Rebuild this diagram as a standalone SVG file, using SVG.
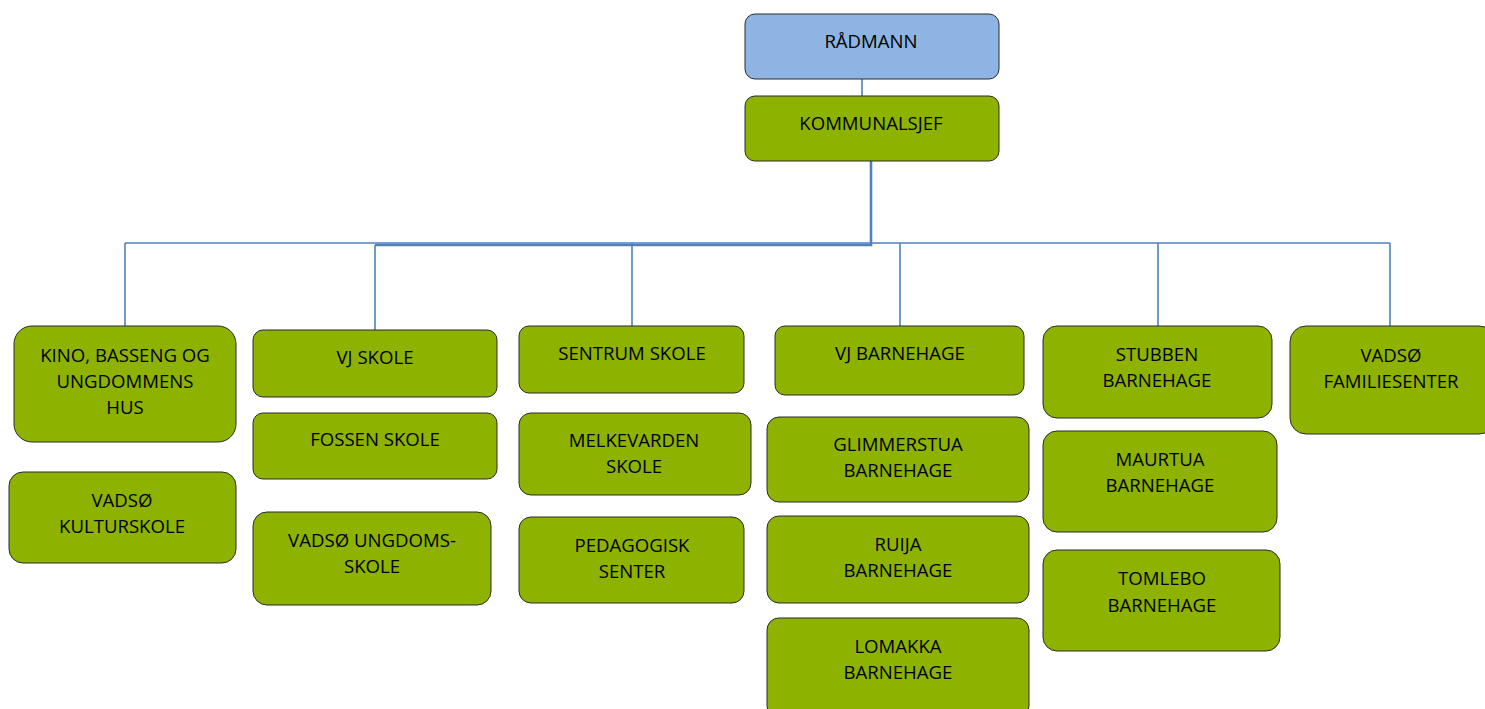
<svg xmlns="http://www.w3.org/2000/svg" width="1485" height="709" viewBox="0 0 1485 709">
<style>
.b{fill:#8DB300;stroke:#2b2b2b;stroke-width:1}
.top{fill:#8DB4E2;stroke:#2b2b2b;stroke-width:1}
text{font-family:"Open Sans","Liberation Sans",sans-serif;font-size:18.6px;fill:#000;text-anchor:middle}
.c{fill:none;stroke:#4F81BD;stroke-width:1.6}
.t{fill:none;stroke:#4F81BD;stroke-width:2.6}
</style>
<rect width="1485" height="709" fill="#fff"/>
<g id="connectors">
<line class="c" x1="862" y1="79" x2="862" y2="96"/>
<polyline class="t" points="871,161 871,245 375,245"/>
<line class="c" x1="125" y1="243" x2="1390" y2="243"/>
<line class="c" x1="125" y1="243" x2="125" y2="326"/>
<line class="c" x1="375" y1="245" x2="375" y2="330"/>
<line class="c" x1="632" y1="243" x2="632" y2="326"/>
<line class="c" x1="900" y1="243" x2="900" y2="326"/>
<line class="c" x1="1158" y1="243" x2="1158" y2="326"/>
<line class="c" x1="1390" y1="243" x2="1390" y2="326"/>
</g>
<g id="radmann"><rect class="top" x="745" y="14" width="254" height="65" rx="10"/><text x="871" y="48">RÅDMANN</text></g>
<g id="kommunalsjef"><rect class="b" x="745" y="96" width="254" height="65" rx="10"/><text x="871" y="130">KOMMUNALSJEF</text></g>
<g id="kino"><rect class="b" x="14" y="326" width="222" height="116" rx="18"/><text x="125" y="362">KINO, BASSENG OG</text><text x="125" y="388">UNGDOMMENS</text><text x="125" y="414">HUS</text></g>
<g id="kulturskole"><rect class="b" x="9" y="472" width="227" height="91" rx="14"/><text x="122" y="507">VADSØ</text><text x="122" y="533">KULTURSKOLE</text></g>
<g id="vjskole"><rect class="b" x="253" y="330" width="244" height="67" rx="10"/><text x="375" y="364">VJ SKOLE</text></g>
<g id="fossen"><rect class="b" x="253" y="413" width="244" height="66" rx="10"/><text x="375" y="446">FOSSEN SKOLE</text></g>
<g id="ungdomsskole"><rect class="b" x="253" y="512" width="238" height="93" rx="14"/><text x="372" y="547">VADSØ UNGDOMS-</text><text x="372" y="573">SKOLE</text></g>
<g id="sentrum"><rect class="b" x="519" y="326" width="225" height="67" rx="10"/><text x="632" y="360">SENTRUM SKOLE</text></g>
<g id="melkevarden"><rect class="b" x="519" y="413" width="232" height="82" rx="12"/><text x="634" y="447">MELKEVARDEN</text><text x="634" y="473">SKOLE</text></g>
<g id="pedagogisk"><rect class="b" x="519" y="517" width="225" height="86" rx="12"/><text x="632" y="552">PEDAGOGISK</text><text x="632" y="578">SENTER</text></g>
<g id="vjbarnehage"><rect class="b" x="775" y="326" width="249" height="69" rx="10"/><text x="900" y="360">VJ BARNEHAGE</text></g>
<g id="glimmerstua"><rect class="b" x="767" y="417" width="262" height="85" rx="12"/><text x="898" y="451">GLIMMERSTUA</text><text x="898" y="477">BARNEHAGE</text></g>
<g id="ruija"><rect class="b" x="767" y="516" width="262" height="87" rx="12"/><text x="898" y="551">RUIJA</text><text x="898" y="577">BARNEHAGE</text></g>
<g id="lomakka"><rect class="b" x="767" y="618" width="262" height="100" rx="12"/><text x="898" y="653">LOMAKKA</text><text x="898" y="679">BARNEHAGE</text></g>
<g id="stubben"><rect class="b" x="1043" y="326" width="229" height="92" rx="14"/><text x="1157" y="361">STUBBEN</text><text x="1157" y="387">BARNEHAGE</text></g>
<g id="maurtua"><rect class="b" x="1043" y="431" width="234" height="101" rx="14"/><text x="1160" y="466">MAURTUA</text><text x="1160" y="492">BARNEHAGE</text></g>
<g id="tomlebo"><rect class="b" x="1043" y="550" width="237" height="101" rx="14"/><text x="1162" y="585">TOMLEBO</text><text x="1162" y="612">BARNEHAGE</text></g>
<g id="familiesenter"><rect class="b" x="1290" y="326" width="205" height="108" rx="16"/><text x="1391" y="362">VADSØ</text><text x="1391" y="388">FAMILIESENTER</text></g>
</svg>
